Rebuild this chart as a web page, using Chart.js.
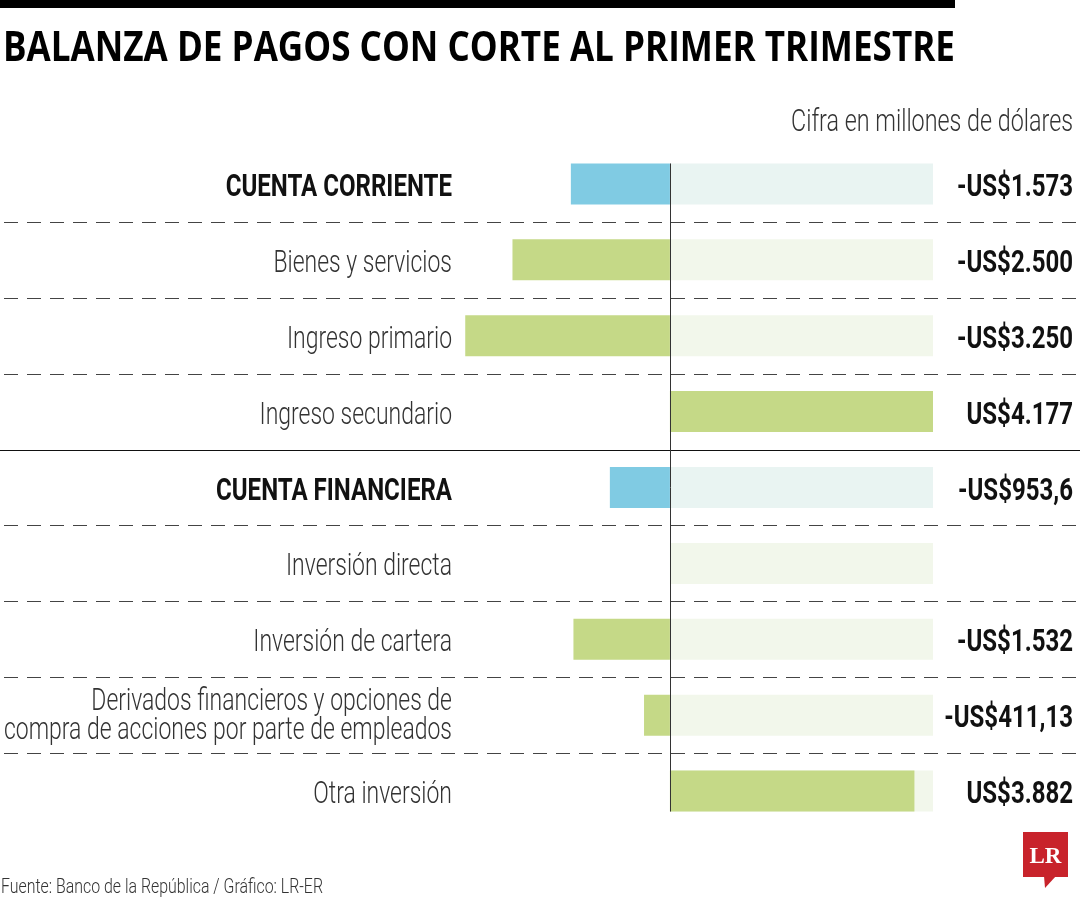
<!DOCTYPE html>
<html>
<head>
<meta charset="utf-8">
<script src="https://cdn.jsdelivr.net/npm/chart.js@4.4.1/dist/chart.umd.min.js"></script>
<style>
html,body{margin:0;padding:0;background:#fff;}
#wrap{position:relative;width:1080px;height:900px;}
canvas{display:block;}
</style>
</head>
<body>
<div id="wrap"><canvas id="c" width="1080" height="900"></canvas></div>
<script>
// ---- data ----
const title = 'BALANZA DE PAGOS CON CORTE AL PRIMER TRIMESTRE';
const subtitle = 'Cifra en millones de dólares';
const source = 'Fuente: Banco de la República / Gráfico: LR-ER';
const categories = [
  'CUENTA CORRIENTE',
  'Bienes y servicios',
  'Ingreso primario',
  'Ingreso secundario',
  'CUENTA FINANCIERA',
  'Inversión directa',
  'Inversión de cartera',
  ['Derivados financieros y opciones de', 'compra de acciones por parte de empleados'],
  'Otra inversión'
];
const values = [-1573, -2500, -3250, 4177, -953.6, null, -1532, -411.13, 3882];
const valueLabels = ['-US$1.573', '-US$2.500', '-US$3.250', 'US$4.177', '-US$953,6', '', '-US$1.532', '-US$411,13', 'US$3.882'];
const isTotal = [true, false, false, false, true, false, false, false, false];
const maxValue = Math.max(...values.filter(v => v !== null));

// ---- styles ----
const BLUE = '#80cbe3', GREEN = '#c5d987';
const BLUE_BG = '#e9f4f2', GREEN_BG = '#f2f7eb';
const LIGHT_FONT = '300 32px Roboto, "DejaVu Sans", sans-serif';
const BOLD_FONT = '700 32px Roboto, "DejaVu Sans", sans-serif';
const VALUE_FONT = '700 32px Roboto, "DejaVu Sans", sans-serif';
const TITLE_FONT = '700 41px "Open Sans", Roboto, sans-serif';
const FOOT_FONT = '300 20px Roboto, sans-serif';

function scaleFor(ctx, font, ref, target) {
  ctx.save(); ctx.font = font; const w = ctx.measureText(ref).width; ctx.restore();
  return target / w;
}
function txt(ctx, s, x, y, align, font, sx, color) {
  ctx.save();
  ctx.font = font; ctx.fillStyle = color; ctx.textBaseline = 'alphabetic'; ctx.textAlign = align;
  ctx.translate(x, y); ctx.scale(sx, 1); ctx.fillText(s, 0, 0);
  ctx.restore();
}

const decor = {
  id: 'decor',
  afterDraw(chart) {
    const ctx = chart.ctx;
    const xs = chart.scales.x, ys = chart.scales.y;
    const step = ys.getPixelForValue(1) - ys.getPixelForValue(0);
    const sLight = scaleFor(ctx, LIGHT_FONT, 'compra de acciones por parte de empleados', 448);
    const sBold = scaleFor(ctx, BOLD_FONT, 'CUENTA FINANCIERA', 236);
    const sVal = scaleFor(ctx, VALUE_FONT, '-US$1.573', 116);
    const sTitle = scaleFor(ctx, TITLE_FONT, title, 952);

    // top black band
    ctx.fillStyle = '#000';
    ctx.fillRect(0, 0, 955, 8);
    // title
    txt(ctx, title, 3, 61, 'left', TITLE_FONT, sTitle, '#000');
    // subtitle
    const sSub = scaleFor(ctx, LIGHT_FONT, subtitle, 282);
    txt(ctx, subtitle, 1073, 131, 'right', LIGHT_FONT, sSub, '#333');

    // separators
    for (let i = 1; i < categories.length; i++) {
      const y = Math.round(ys.getPixelForValue(i) - step / 2) + 0.5;
      ctx.save();
      ctx.beginPath();
      ctx.lineWidth = 1;
      if (isTotal[i]) {
        ctx.strokeStyle = '#111';
        ctx.setLineDash([]);
      } else {
        ctx.strokeStyle = '#444';
        ctx.setLineDash([14, 9]);
        ctx.lineDashOffset = -4;
      }
      ctx.moveTo(0, y); ctx.lineTo(1080, y); ctx.stroke();
      ctx.restore();
    }

    // zero line
    const meta = chart.getDatasetMeta(1);
    const first = meta.data[0], last = meta.data[meta.data.length - 1];
    const x0 = Math.round(xs.getPixelForValue(0)) + 0.5;
    ctx.save();
    ctx.strokeStyle = '#333'; ctx.lineWidth = 1;
    ctx.beginPath();
    ctx.moveTo(x0, first.y - first.height / 2);
    ctx.lineTo(x0, last.y + last.height / 2);
    ctx.stroke();
    ctx.restore();

    // category labels & values
    categories.forEach((lab, i) => {
      const cy = ys.getPixelForValue(i);
      if (Array.isArray(lab)) {
        txt(ctx, lab[0], 452, cy - 5, 'right', LIGHT_FONT, sLight, '#333');
        txt(ctx, lab[1], 452, cy + 24, 'right', LIGHT_FONT, sLight, '#333');
      } else if (isTotal[i]) {
        txt(ctx, lab, 452, cy + 12, 'right', BOLD_FONT, sBold, '#111');
      } else {
        txt(ctx, lab, 452, cy + 12, 'right', LIGHT_FONT, sLight, '#333');
      }
      if (valueLabels[i]) {
        txt(ctx, valueLabels[i], 1073, cy + 12, 'right', VALUE_FONT, sVal, '#111');
      }
    });

    // source
    const sFoot = scaleFor(ctx, FOOT_FONT, source, 322);
    txt(ctx, source, 1, 893, 'left', FOOT_FONT, sFoot, '#333');

    // logo
    ctx.save();
    ctx.fillStyle = '#c8232b';
    ctx.fillRect(1023, 832, 45, 45);
    ctx.beginPath();
    ctx.moveTo(1044, 876); ctx.lineTo(1056, 876); ctx.lineTo(1045, 888); ctx.closePath(); ctx.fill();
    ctx.fillStyle = '#fff';
    ctx.font = '700 23px "Liberation Serif", "DejaVu Serif", serif';
    ctx.textAlign = 'center'; ctx.textBaseline = 'alphabetic';
    ctx.fillText('LR', 1045.5, 863);
    ctx.restore();
  }
};

new Chart(document.getElementById('c'), {
  type: 'bar',
  data: {
    labels: categories,
    datasets: [
      {
        data: values,
        backgroundColor: isTotal.map(t => t ? BLUE : GREEN),
        borderWidth: 0,
        barPercentage: 0.54,
        categoryPercentage: 1,
        grouped: false,
        order: 0
      },
      {
        data: categories.map(() => maxValue),
        backgroundColor: isTotal.map(t => t ? BLUE_BG : GREEN_BG),
        borderWidth: 0,
        barPercentage: 0.54,
        categoryPercentage: 1,
        grouped: false,
        order: 1
      }
    ]
  },
  options: {
    responsive: false,
    animation: false,
    indexAxis: 'y',
    layout: { padding: { left: 418, right: 147, top: 146, bottom: 71 } },
    scales: {
      x: { display: false, min: -4000, max: 4177 },
      y: { display: false }
    },
    plugins: { legend: { display: false }, tooltip: { enabled: false } },
    events: []
  },
  plugins: [decor]
});
</script>
</body>
</html>
